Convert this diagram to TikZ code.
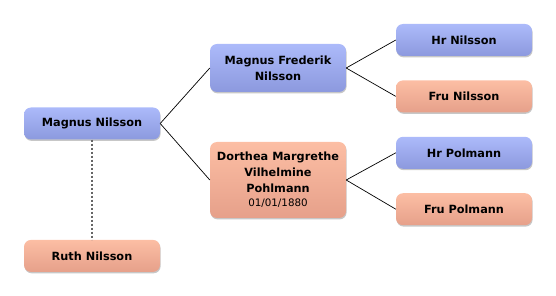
\documentclass[tikz,border=0pt]{standalone}
\usepackage{fontspec}
\setmainfont{DejaVu Sans}
\usetikzlibrary{positioning, shadows}
\definecolor{maletop}{RGB}{172,186,250}
\definecolor{malebot}{RGB}{140,153,222}
\definecolor{femtop}{RGB}{252,190,164}
\definecolor{fembot}{RGB}{230,160,138}

\begin{document}
\begin{tikzpicture}[
    x=1pt, y=-1pt,
    person/.style={rectangle, rounded corners=7pt, minimum width=136pt, minimum height=32pt,
                   inner sep=0pt, align=center, font=\fontsize{11.3}{16}\selectfont\bfseries,
                   drop shadow={shadow xshift=0.6pt, shadow yshift=-1.4pt, opacity=0.22, fill=black}},
    male/.style={person, top color=maletop, bottom color=malebot},
    female/.style={person, top color=femtop, bottom color=fembot},
    link/.style={black, line width=0.7pt},
    spouse/.style={black!60, line width=1.6pt, dash pattern=on 2pt off 2pt}
]
\useasboundingbox (0,0) rectangle (556,296);

% grandparents
\node[male] (hrn) at (464,40) {Hr Nilsson};
\node[female, below=24pt of hrn] (frun) {Fru Nilsson};
\node[male, below=24pt of frun] (hrp) {Hr Polmann};
\node[female, below=24pt of hrp] (frup) {Fru Polmann};

% parents
\node[male, minimum height=48pt] (magnusf) at (278,68) {Magnus Frederik\\Nilsson};
\node[female, minimum height=76pt] (dorthea) at (278,180)
    {Dorthea Margrethe\\Vilhelmine\\Pohlmann\\[-2pt]{\mdseries\fontsize{10.3}{12}\selectfont 01/01/1880}};

% root and spouse
\node[male] (magnus) at (92,123.5) {Magnus Nilsson};
\node[female, below=100pt of magnus] (ruth) {Ruth Nilsson};

\draw[link] (magnus.east) -- (magnusf.west);
\draw[link] (magnus.east) -- (dorthea.west);
\draw[link] (magnusf.east) -- (hrn.west);
\draw[link] (magnusf.east) -- (frun.west);
\draw[link] (dorthea.east) -- (hrp.west);
\draw[link] (dorthea.east) -- (frup.west);
\draw[spouse] (magnus.south) -- (ruth.north);

\end{tikzpicture}
\end{document}
